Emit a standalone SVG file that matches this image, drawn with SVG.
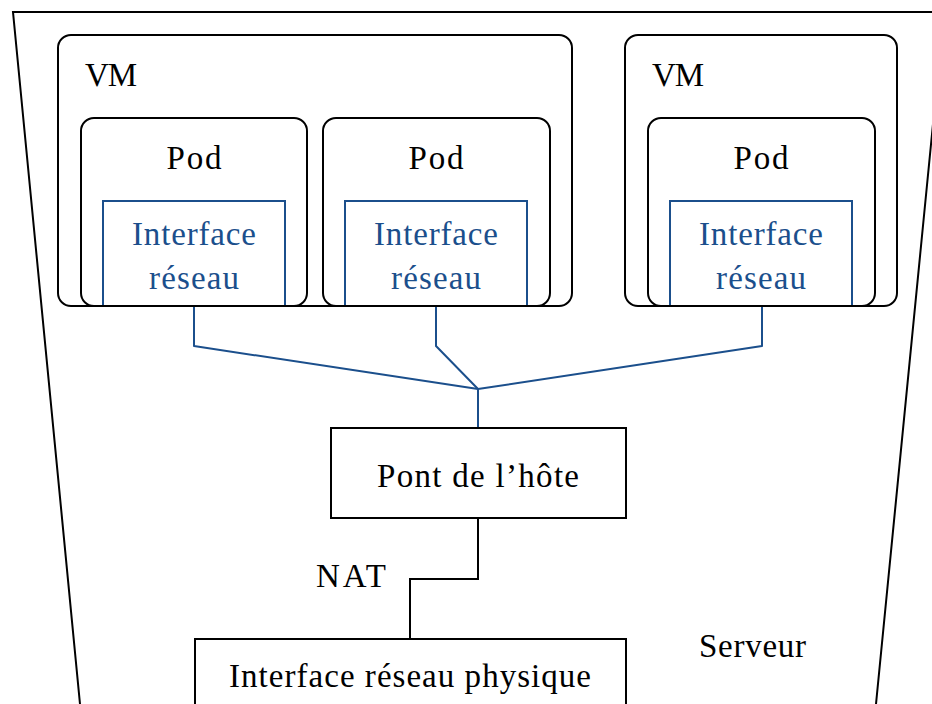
<svg xmlns="http://www.w3.org/2000/svg" width="932" height="704" viewBox="0 0 932 704">
<style>
  text { font-family: "Liberation Serif", "Times New Roman", serif; font-size: 33px; fill: #000; }
  .c { text-anchor: middle; }
  .blue { fill: #1b4f8c; }
  .box { fill: none; stroke: #000; stroke-width: 2; }
  .ibox { fill: none; stroke: #1b4f8c; stroke-width: 2; }
  .wire { fill: none; stroke: #1b4f8c; stroke-width: 2; stroke-linejoin: round; }
  .bwire { fill: none; stroke: #000; stroke-width: 2; }
</style>
<rect width="932" height="704" fill="#fff"/>
<g id="serveur">
  <path class="box" d="M80,704 L13,12 L944,12 L876,704"/>
  <text x="699" y="657" textLength="107">Serveur</text>
</g>
<g id="vm1">
  <rect class="box" x="58" y="35" width="514" height="271" rx="13"/>
  <text x="85" y="86" textLength="52">VM</text>
</g>
<g id="vm2">
  <rect class="box" x="625" y="35" width="272" height="271" rx="13"/>
  <text x="652" y="86" textLength="52">VM</text>
</g>
<g id="iface1">
  <rect class="ibox" x="103" y="201" width="182" height="105"/>
  <text class="c blue" x="194" y="245" textLength="124">Interface</text>
  <text class="c blue" x="194" y="289" textLength="90">réseau</text>
</g>
<g id="iface2">
  <rect class="ibox" x="345" y="201" width="182" height="105"/>
  <text class="c blue" x="436" y="245" textLength="124">Interface</text>
  <text class="c blue" x="436" y="289" textLength="90">réseau</text>
</g>
<g id="iface3">
  <rect class="ibox" x="670" y="201" width="182" height="105"/>
  <text class="c blue" x="761" y="245" textLength="124">Interface</text>
  <text class="c blue" x="761" y="289" textLength="90">réseau</text>
</g>
<g id="pod1">
  <rect class="box" x="81" y="118" width="226" height="188" rx="13"/>
  <text class="c" x="194" y="169" textLength="55">Pod</text>
</g>
<g id="pod2">
  <rect class="box" x="323" y="118" width="227" height="188" rx="13"/>
  <text class="c" x="436" y="169" textLength="55">Pod</text>
</g>
<g id="pod3">
  <rect class="box" x="648" y="118" width="227" height="188" rx="13"/>
  <text class="c" x="761" y="169" textLength="55">Pod</text>
</g>
<g id="pont">
  <rect class="box" x="331" y="428" width="295" height="90"/>
  <text class="c" x="478" y="487" textLength="202">Pont de l’hôte</text>
</g>
<g id="physique">
  <rect class="box" x="195" y="639" width="431" height="80"/>
  <text class="c" x="410" y="687" textLength="362">Interface réseau physique</text>
</g>
<g id="connecteurs">
  <path class="wire" d="M194,307 L194,346 L478,389"/>
  <path class="wire" d="M436,307 L436,346 L478,389"/>
  <path class="wire" d="M762,307 L762,346 L478,389"/>
  <path class="wire" d="M478,389 L478,427"/>
  <path class="bwire" d="M478,518 L478,579 L410,579 L410,639"/>
  <text x="386" y="587" text-anchor="end" textLength="70">NAT</text>
</g>
</svg>
